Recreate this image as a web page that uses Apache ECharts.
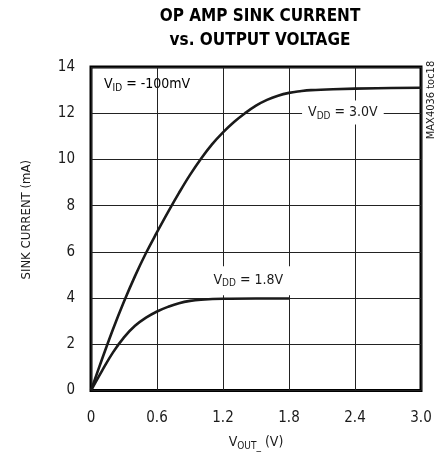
<!DOCTYPE html>
<html>
<head>
<meta charset="utf-8">
<script src="https://cdn.jsdelivr.net/npm/echarts@6/dist/echarts.min.js"></script>
<style>
  html, body { margin: 0; padding: 0; background: #fff; }
  #chart { width: 443px; height: 456px; }
</style>
</head>
<body>
<div id="chart"></div>
<script>
// values: [VOUT (V), sink current (mA)]
var vdd30 = [[0, 0], [0.1, 1.35], [0.2, 2.65], [0.3, 3.85], [0.4, 4.95], [0.5, 5.95], [0.6, 6.85],
  [0.7, 7.72], [0.8, 8.55], [0.9, 9.33], [1.0, 10.03], [1.1, 10.65], [1.2, 11.17], [1.3, 11.62],
  [1.4, 12.0], [1.5, 12.33], [1.6, 12.58], [1.7, 12.76], [1.8, 12.88], [1.9, 12.95], [2.0, 13.0],
  [2.2, 13.04], [2.6, 13.08], [3.0, 13.1]];
var vdd18 = [[0, 0], [0.1, 0.85], [0.2, 1.65], [0.3, 2.3], [0.4, 2.8], [0.5, 3.15], [0.6, 3.42],
  [0.7, 3.62], [0.8, 3.78], [0.9, 3.88], [1.0, 3.93], [1.2, 3.97], [1.5, 3.98], [1.8, 3.98]];
var xTicks = ['0', '0.6', '1.2', '1.8', '2.4', '3.0'];
var yTicks = [0, 2, 4, 6, 8, 10, 12, 14];
// label text anchors in data units
var lbl30 = [2.29, 12.03];
var lbl18 = [1.43, 4.75];

var font = "'Liberation Sans Narrow', 'DejaVu Sans Condensed', 'Liberation Sans', sans-serif";
var ink = '#1a1a1a';

var rich = {
  v: { fontSize: 14, color: ink, fontFamily: font, lineHeight: 18 },
  s: { fontSize: 10, color: ink, fontFamily: font, lineHeight: 18, padding: [7, 0, 0, 0] }
};

function lineSeries(data, name, label, coord, pad) {
  return {
    type: 'line',
    name: name,
    data: data,
    smooth: 0.4,
    symbol: 'none',
    lineStyle: { color: ink, width: 2.6 },
    z: 5,
    markPoint: {
      symbol: 'circle',
      symbolSize: 0,
      data: [{ coord: coord }],
      label: {
        show: true,
        position: 'inside',
        formatter: label,
        backgroundColor: '#fff',
        padding: pad,
        rich: rich
      },
      z: 4
    }
  };
}

var chart = echarts.init(document.getElementById('chart'));
chart.setOption({
  animation: false,
  backgroundColor: '#fff',
  title: {
    text: 'OP AMP SINK CURRENT\nvs. OUTPUT VOLTAGE',
    left: 255,
    top: 0,
    textAlign: 'center',
    textStyle: { fontFamily: font, fontWeight: 'bold', fontSize: 17, lineHeight: 24, color: '#000' }
  },
  grid: { left: 91, top: 67, right: 22, bottom: 60, show: true, borderColor: '#000', borderWidth: 3 },
  xAxis: {
    type: 'value',
    min: 0,
    max: 3,
    interval: 0.6,
    name: '{v|V}{s|OUT_}{v| (V)}',
    nameLocation: 'middle',
    nameGap: 43,
    nameTextStyle: { rich: rich },
    axisLine: { show: false },
    axisTick: { show: false },
    axisLabel: {
      margin: 20,
      fontSize: 15,
      color: ink,
      fontFamily: font,
      formatter: function (v) { return xTicks[Math.round(v / 0.6)]; }
    },
    splitLine: { lineStyle: { color: '#222', width: 1 } }
  },
  yAxis: {
    type: 'value',
    min: 0,
    max: 14,
    interval: 2,
    name: 'SINK CURRENT (mA)',
    nameLocation: 'middle',
    nameGap: 58,
    nameTextStyle: { fontSize: 13, color: ink, fontFamily: font, padding: [0, 0, 0, 18] },
    axisLine: { show: false },
    axisTick: { show: false },
    axisLabel: {
      margin: 16,
      fontSize: 15,
      color: ink,
      fontFamily: font,
      formatter: function (v) { return yTicks.indexOf(v) >= 0 ? String(v) : ''; }
    },
    splitLine: { lineStyle: { color: '#222', width: 1 } }
  },
  graphic: [
    {
      type: 'text',
      left: 104,
      top: 76,
      style: {
        text: '{v|V}{s|ID}{v| = -100mV}',
        rich: rich
      }
    },
    {
      type: 'text',
      x: 431,
      y: 100,
      rotation: Math.PI / 2,
      style: {
        text: 'MAX4036 toc18',
        fontSize: 11,
        fontFamily: font,
        fill: ink,
        align: 'center',
        verticalAlign: 'middle'
      }
    }
  ],
  series: [
    lineSeries(vdd30, 'VDD = 3.0V', '{v|V}{s|DD}{v| = 3.0V}', lbl30, [3, 6, 3, 6]),
    lineSeries(vdd18, 'VDD = 1.8V', '{v|V}{s|DD}{v| = 1.8V}', lbl18, [5, 10, 6, 10])
  ]
});
</script>
</body>
</html>
